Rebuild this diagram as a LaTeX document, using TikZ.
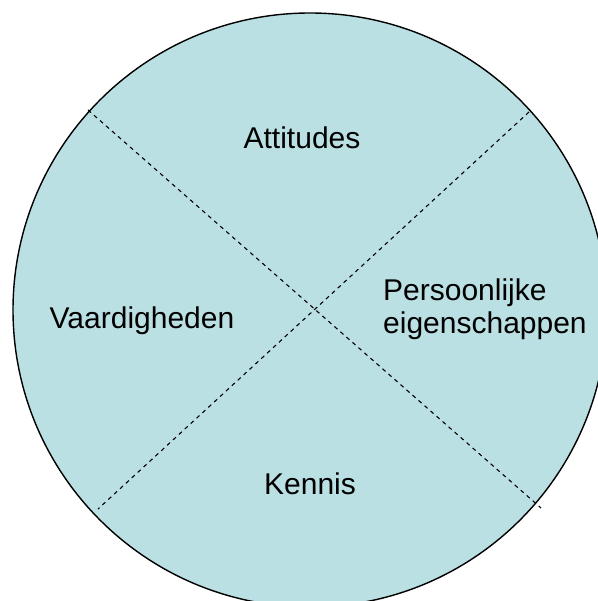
\documentclass[tikz,border=0pt]{standalone}
\usepackage{fontspec}
\setmainfont{Liberation Sans}
\usepackage{xcolor}
\definecolor{wheelfill}{RGB}{187,224,227}
\usepackage{tikz}
\usetikzlibrary{positioning}

\begin{document}
\begin{tikzpicture}[x=1pt, y=-1pt,
  quarterlabel/.style={font=\fontsize{30}{32.5}\selectfont, inner sep=0pt, anchor=base},
  divider/.style={black, line width=1.1pt, dash pattern=on 4pt off 4pt}]

\useasboundingbox (0,0) rectangle (597,601);

% --- Wheel ---
\draw[black, line width=1.4pt, fill=wheelfill] (310,310) circle [radius=297pt];

% Divider end points
\coordinate (nw) at (88,110);
\coordinate (se) at (541,508);
\coordinate (ne) at (529,112);
\coordinate (sw) at (98,509);

% Dashed dividers
\draw[divider] (nw) -- (se);
\draw[divider] (ne) -- (sw);

% --- Quarter labels ---
\node[quarterlabel] (attitudes) at (302,149) {Attitudes};
\node[quarterlabel] (vaardigheden) at (142,328) {Vaardigheden};
\node[quarterlabel, anchor=base west, align=left] (persoonlijk) at (383,333)
     {Persoonlijke\\eigenschappen};
\node[quarterlabel] (kennis) at (310,494) {Kennis};

\end{tikzpicture}
\end{document}
